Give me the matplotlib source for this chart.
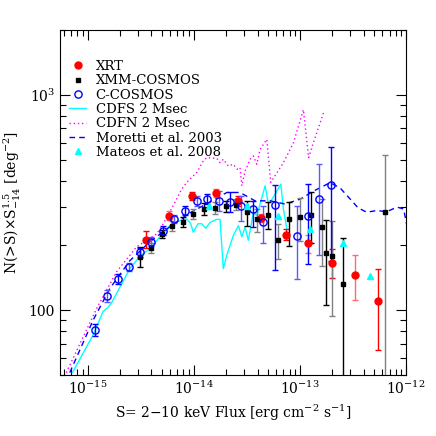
import matplotlib
matplotlib.use("Agg")
import matplotlib.pyplot as plt
import numpy as np
from matplotlib.ticker import FixedLocator, FixedFormatter, LogLocator, NullFormatter

plt.rcParams['font.family'] = ['DejaVu Serif']
plt.rcParams['mathtext.fontset'] = 'dejavuserif'

# XRT (red filled circles)
xrt_x = [3.55e-15, 5.88e-15, 9.67e-15, 1.62e-14, 2.62e-14, 4.35e-14, 7.33e-14, 1.2e-13, 2.0e-13, 3.3e-13, 5.5e-13]
xrt_y = [211, 275, 340, 350, 320, 267, 224, 206, 166, 146, 110]
xrt_lo = [195, 261, 326, 336, 304, 257, 211, 184, 141, 111, 65]
xrt_hi = [234, 290, 355, 365, 338, 280, 239, 224, 192, 181, 155]

# XMM-COSMOS (black squares)
xmm_x = [3.11e-15, 3.93e-15, 4.99e-15, 6.28e-15, 7.87e-15, 9.9e-15, 1.26e-14, 1.59e-14, 2.02e-14, 2.5e-14,
         3.16e-14, 3.98e-14, 5.05e-14, 6.28e-14, 7.93e-14, 1.01e-13, 1.27e-13, 1.6e-13, 1.78e-13, 2.02e-13,
         2.55e-13, 6.38e-13]
xmm_y = [177, 195, 226, 247, 256, 280, 295, 298, 303, 309,
         285, 264, 277, 211, 265, 272, 278, 244, 185, 178,
         132, 287]
xmm_lo = [158, 185, 216, 234, 243, 266, 277, 280, 285, 291,
          247, 231, 238, 172, 198, 209, 204, 161, 106, 94,
          20, 20]
xmm_hi = [197, 206, 236, 260, 270, 295, 314, 317, 323, 329,
          321, 295, 318, 252, 319, 332, 354, 328, 263, 260,
          216, 523]

# C-COSMOS (blue open circles)
cc_x = [1.17e-15, 1.51e-15, 1.92e-15, 2.44e-15, 3.11e-15, 4.0e-15, 5.16e-15, 6.57e-15, 8.28e-15, 1.07e-14,
        1.34e-14, 1.73e-14, 2.2e-14, 2.79e-14, 3.6e-14, 4.54e-14, 5.85e-14, 9.5e-14, 1.2e-13, 1.53e-13, 1.97e-13]
cc_y = [81, 116, 140, 159, 186, 208, 234, 265, 290, 322,
        328, 322, 317, 305, 295, 256, 308, 222, 275, 330, 381]
cc_lo = [76, 109, 133, 152, 177, 199, 224, 254, 277, 305,
         311, 290, 285, 260, 244, 204, 153, 140, 163, 181, 170]
cc_hi = [86, 124, 147, 166, 195, 218, 245, 277, 303, 340,
         346, 358, 352, 339, 321, 303, 381, 306, 385, 476, 570]

# CDFS 2 Msec (cyan solid line)
cdfs_x = [7.2e-16, 1.13e-15, 1.40e-15, 1.56e-15, 1.68e-15, 2.02e-15, 2.51e-15, 3.11e-15, 3.87e-15, 4.81e-15,
          5.97e-15, 7.44e-15, 8.6e-15, 9.37e-15, 9.9e-15, 1.10e-14, 1.19e-14, 1.30e-14, 1.43e-14, 1.65e-14,
          1.77e-14, 1.90e-14, 2.05e-14, 2.36e-14, 2.64e-14, 2.84e-14, 3.05e-14, 3.27e-14, 3.65e-14, 3.93e-14,
          4.71e-14, 5.06e-14, 5.48e-14, 6.62e-14, 7.0e-14, 7.53e-14]
cdfs_y = [51.3, 76.9, 98.6, 103, 108, 128, 156, 178, 193, 219,
          247, 261, 265, 252, 230, 252, 252, 240, 256, 264,
          264, 156, 180, 222, 247, 219, 243, 211, 285, 275,
          378, 311, 328, 385, 295, 239]

# CDFN 2 Msec (magenta dotted line)
cdfn_x = [6.3e-16, 1.22e-15, 1.88e-15, 2.90e-15, 4.48e-15, 5.17e-15, 6.66e-15, 7.71e-15, 8.59e-15, 1.07e-14,
          1.23e-14, 1.33e-14, 1.65e-14, 1.77e-14, 1.90e-14, 2.12e-14, 2.36e-14, 2.58e-14, 2.73e-14, 2.84e-14,
          3.05e-14, 3.40e-14, 3.65e-14, 3.93e-14, 4.22e-14, 4.88e-14, 5.32e-14, 7.0e-14, 8.7e-14, 1.08e-13,
          1.21e-13, 1.34e-13, 1.67e-13]
cdfn_y = [51.3, 102, 151, 197, 226, 252, 317, 365, 392, 436,
          493, 511, 507, 484, 502, 467, 476, 451, 459, 378,
          443, 502, 520, 476, 558, 621, 392, 484, 599, 853,
          511, 599, 824]

# Moretti et al. 2003 (blue dashed line)
mor_x = [6.8e-16, 1.13e-15, 1.62e-15, 2.51e-15, 3.87e-15, 5.97e-15, 9.2e-15, 1.43e-14, 2.05e-14, 2.73e-14,
         3.78e-14, 5.25e-14, 7.27e-14, 1.01e-13, 1.34e-13, 1.93e-13, 2.40e-13, 2.98e-13, 3.55e-13, 4.28e-13,
         5.25e-13, 6.62e-13, 8.23e-13, 9.5e-13, 1.02e-12]
mor_y = [51.3, 90, 126, 170, 208, 244, 283, 318, 352, 352,
         322, 322, 311, 328, 357, 391, 369, 328, 298, 285,
         290, 287, 301, 295, 247]

# Mateos et al. 2008 (cyan triangles)
mat_x = [1.4e-14, 3.2e-14, 6.28e-14, 1.25e-13, 2.55e-13, 4.6e-13]
mat_y = [305, 305, 273, 239, 204, 144]

# axis ticks
x_ticks = [1e-15, 1e-14, 1e-13, 1e-12]
x_labels = [r'$10^{-15}$', r'$10^{-14}$', r'$10^{-13}$', r'$10^{-12}$']
y_ticks = [100, 1000]
y_labels = ['100', r'$10^3$']

fig = plt.figure(figsize=(4.36, 4.36), dpi=100)
ax = fig.add_axes([60/436, 1-375/436, 346/436, 345/436])
ax.set_xscale('log')
ax.set_yscale('log')

ax.plot(cdfs_x, cdfs_y, color='cyan', lw=1.0, label='CDFS 2 Msec', zorder=2)
ax.plot(cdfn_x, cdfn_y, color='magenta', lw=1.0, ls=(0, (1, 2)), label='CDFN 2 Msec', zorder=2)
ax.plot(mor_x, mor_y, color='blue', lw=1.0, ls=(0, (4, 3)), label='Moretti et al. 2003', zorder=2)


def draw_err(xs, ys, lo, hi, ecol, light, **mk):
    for i, (xv, yv, l, h) in enumerate(zip(xs, ys, lo, hi)):
        c = ecol if i % 2 == 0 else light
        ax.errorbar([xv], [yv], yerr=[[yv - l], [h - yv]], fmt='none', ecolor=c,
                    elinewidth=1.0, capsize=2.5, capthick=1.0, zorder=3)
    return ax.plot(xs, ys, ls='none', zorder=4, **mk)


draw_err(xrt_x, xrt_y, xrt_lo, xrt_hi, 'red', '#ff6a6a',
         marker='o', color='red', ms=5, mec='red', label='XRT')
draw_err(xmm_x, xmm_y, xmm_lo, xmm_hi, 'black', '#808080',
         marker='s', color='black', ms=3.5, mec='black', label='XMM-COSMOS')
draw_err(cc_x, cc_y, cc_lo, cc_hi, 'blue', '#5a5aff',
         marker='o', color='blue', mfc='none', ms=5.2, mew=1.0, label='C-COSMOS')
ax.plot(mat_x, mat_y, ls='none', marker='^', color='cyan', ms=4, label='Mateos et al. 2008', zorder=4)

ax.set_xlim(5.5e-16, 1e-12)
ax.set_ylim(50, 2000)

ax.yaxis.set_major_locator(FixedLocator(y_ticks))
ax.yaxis.set_major_formatter(FixedFormatter(y_labels))
ax.yaxis.set_minor_locator(LogLocator(base=10, subs=np.arange(2, 10)))
ax.yaxis.set_minor_formatter(NullFormatter())
ax.xaxis.set_major_locator(FixedLocator(x_ticks))
ax.xaxis.set_major_formatter(FixedFormatter(x_labels))
ax.xaxis.set_minor_locator(LogLocator(base=10, subs=np.arange(2, 10), numticks=20))
ax.xaxis.set_minor_formatter(NullFormatter())

ax.tick_params(which='both', direction='in', top=True, right=True, labelsize=10, width=0.8)
ax.tick_params(which='major', length=7)
ax.tick_params(which='minor', length=4)
for s in ax.spines.values():
    s.set_linewidth(0.8)

ax.set_xlabel(r'S= 2$-$10 keV Flux [erg cm$^{-2}$ s$^{-1}$]', fontsize=10, labelpad=4)
ax.set_ylabel(r'N(>S)$\times$S$^{1.5}_{-14}$ [deg$^{-2}$]', fontsize=10, labelpad=4)

h, l = ax.get_legend_handles_labels()
order = ['XRT', 'XMM-COSMOS', 'C-COSMOS', 'CDFS 2 Msec', 'CDFN 2 Msec', 'Moretti et al. 2003', 'Mateos et al. 2008']
hd = dict(zip(l, h))
ax.legend([hd[k] for k in order], order, loc='upper left', bbox_to_anchor=(0.0, 0.94),
          frameon=False, fontsize=9.5, handlelength=1.3, handletextpad=0.7, labelspacing=0.1,
          borderaxespad=0.3, numpoints=1)

fig.savefig('out.png', dpi=100)
